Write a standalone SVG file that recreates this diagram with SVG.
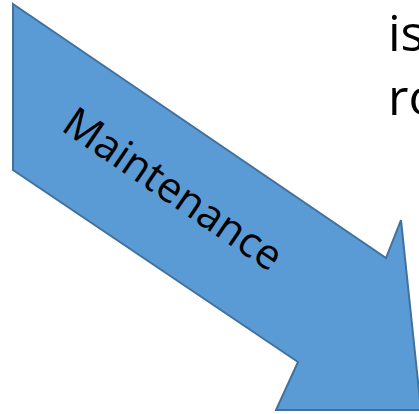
<svg xmlns="http://www.w3.org/2000/svg" width="419" height="414" viewBox="0 0 419 414">
<style>
.arrow{fill:#5B9BD5;stroke:#41719C;stroke-width:2;stroke-linejoin:miter}
.lbl{font-family:"Open Sans","Noto Sans","DejaVu Sans",sans-serif;fill:#000}
</style>
<rect width="419" height="414" fill="#fff"/>
<g id="arrow">
<polygon class="arrow" points="13,4 386,258 401,220 421,410 276,410 298,362 13,170"/>
<text class="lbl" font-size="42" text-anchor="middle" transform="translate(165,201) rotate(34.2)">Maintenance</text>
</g>
<g id="sidetext">
<text class="lbl" font-size="50" x="388" y="51">is</text>
<text class="lbl" font-size="50" x="388" y="115">ro</text>
</g>
</svg>
